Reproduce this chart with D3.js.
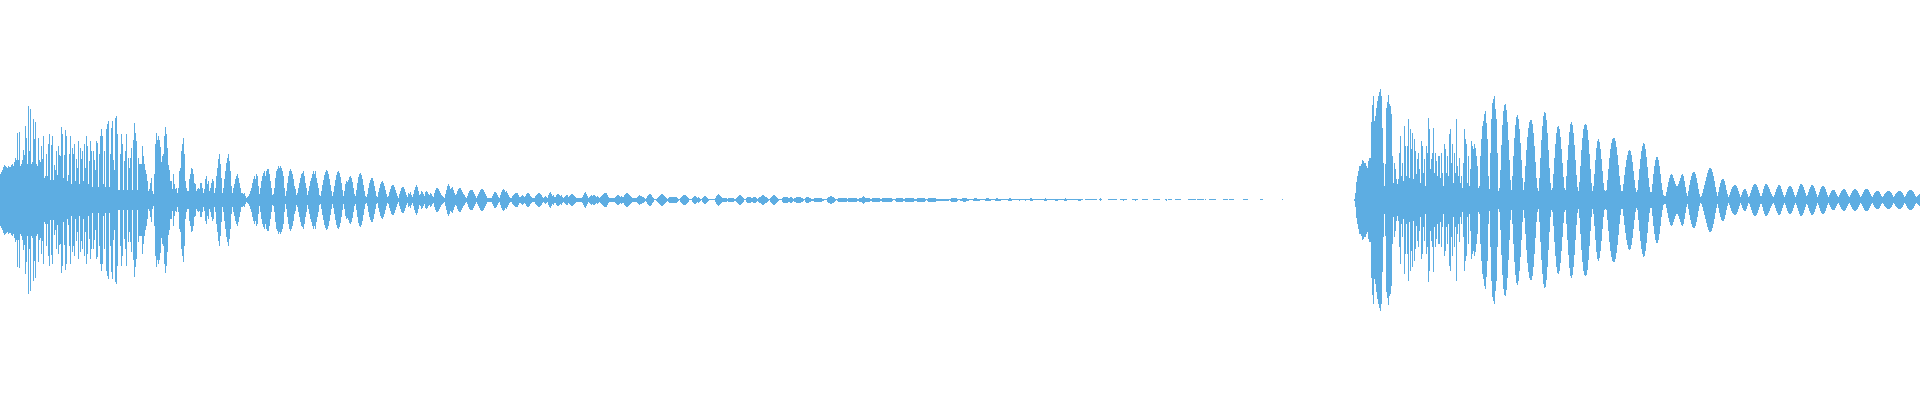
<!DOCTYPE html>
<html>
<head>
<meta charset="utf-8">
<title>Waveform</title>
<script src="https://cdn.jsdelivr.net/npm/d3@7"></script>
<style>
  html, body { margin: 0; padding: 0; background: #ffffff; overflow: hidden; }
  svg { display: block; }
</style>
</head>
<body>
<div id="chart"></div>
<script>
// Peak amplitude per sample column (symmetric around zero).
// Amplitude units: full scale = 200.
const totalSamples = 1920;

// First hit, samples 0..159
const hitOneA = [
  26,28,30,33,35,34,33,32,34,33,
  33,35,36,34,38,42,40,67,40,68,
  34,36,40,50,45,74,62,36,94,49,
  91,36,38,81,61,78,36,34,62,40,
  38,54,41,64,22,24,46,24,56,66,
  20,55,64,20,35,30,49,25,54,45,
  44,73,66,22,45,70,64,19,25,46,
  64,16,52,46,56,19,41,32,59,16,
  52,41,49,19,56,32,64,54,16,39,
  59,49,13,49,40,30,59,57,13,46,
  64,71,64,16,49,13,71,76,79,13,
  46,72,79,40,30,82,84,66,10,10,
  46,66,56,10,39,49,66,10,42,32,
  42,52,10,60,77,67,59,10,42,36,
  36,36,54,44,36,30,26,19,9,11,
  17,22,9,6,26,56,67,60,64,60
];

// First hit, samples 160..319
const hitOneB = [
  53,38,44,46,64,73,66,52,35,30,
  19,19,11,26,16,11,12,7,12,29,
  32,49,56,62,46,19,12,9,9,21,
  26,32,31,26,17,16,9,11,12,11,
  17,17,12,7,11,21,24,16,19,9,
  12,17,21,19,7,12,24,32,41,46,
  36,22,7,12,21,29,37,42,46,39,
  29,14,7,12,16,21,24,26,22,17,
  12,7,7,6,7,4,2,3,4,6,
  9,12,17,21,24,21,26,24,14,6,
  12,19,24,27,29,24,29,31,31,26,
  19,12,5,6,12,22,29,31,34,32,
  34,32,29,24,12,4,9,17,24,29,
  31,29,26,21,14,11,5,7,12,17,
  22,26,27,29,24,17,12,5,9,14,
  19,22,26,29,26,29,22,17,12,5
];

// First hit decay, samples 320..639
const hitOneC = [
  4,9,15,20,25,28,30,29,26,21,
  15,9,4,8,14,20,25,28,29,27,
  23,17,10,4,9,16,19,18,20,23,
  24,22,18,12,6,4,10,17,23,26,
  27,25,21,15,9,4,3,6,12,17,
  20,22,22,19,14,9,4,3,8,12,
  16,18,19,17,14,10,6,3,4,8,
  11,14,15,15,13,10,7,4,2,6,
  9,12,13,13,11,8,5,3,7,6,
  8,5,3,6,10,13,15,13,9,5,
  6,9,8,6,4,8,9,8,6,5,
  7,6,4,3,7,10,12,12,11,9,
  7,5,4,3,2,6,10,14,16,14,
  11,12,13,10,7,5,6,9,11,12,
  12,10,8,6,5,3,2,4,7,9,
  10,10,10,8,6,4,2,4,6,8,
  10,11,11,10,8,6,4,2,2,2,
  2,2,4,6,8,8,7,5,3,2,
  5,8,10,11,10,8,9,7,5,3,
  2,2,4,5,6,7,7,7,5,3,
  3,4,5,4,3,4,6,7,7,6,
  4,3,2,2,2,4,5,6,7,7,
  6,5,3,2,3,4,3,2,5,7,
  8,6,4,5,3,3,5,6,6,5,
  4,5,3,2,3,4,5,5,3,4,
  5,6,6,5,4,3,2,2,2,2,
  2,2,3,5,7,8,6,4,2,3,
  4,5,4,5,5,4,3,4,3,2,
  3,4,5,6,7,7,7,5,3,2,
  2,2,2,2,2,3,4,5,5,4,
  3,4,3,3,5,6,7,7,6,5,
  4,3,2,2,2,2,2,3,4,5
];

// First hit tail, samples 640..959
const hitOneD = [
  4,4,3,3,2,1,2,4,5,6,
  6,5,3,2,0.5,0.5,1,2,3,4,
  5,6,6,5,4,3,2,1,2,3,
  3,3,3,3,3,3,3,2,1,0.5,
  2,3,4,5,5,5,4,3,2,0.5,
  0.5,0.5,2,3,4,4,3,2,3,2,
  1,0.5,2,3,4,4,3,2,1,0.5,
  0.5,0.5,0.5,0.5,0.5,2,4,5,6,5,
  4,3,2,2,2,2,2,1,2,2,
  2,2,2,2,1,1,2,3,4,5,
  5,4,3,2,0.5,0.5,2,3,3,3,
  3,2,2,3,3,3,2,1,2,3,
  3,4,5,5,4,3,3,2,1,0.5,
  2,3,4,5,5,4,3,2,1,0.5,
  0.5,0.5,2,3,3,3,3,3,2,2,
  3,3,2,1,2,2,3,3,3,3,
  3,2,2,1,0.5,2,3,3,3,2,
  2,1,1,1,2,2,2,2,2,2,
  2,2,1,1,0.5,0.5,0.5,2,3,3,
  4,4,3,3,2,1,0.5,1,2,2,
  2,2,2,2,2,2,2,1,2,2,
  2,2,2,2,2,2,2,1,1,2,
  2,2,3,4,3,2,2,2,2,2,
  1,1,2,2,2,2,2,2,2,2,
  1,1,2,2,2,2,2,2,2,2,
  2,2,1,0.5,0.5,1,2,2,2,2,
  2,2,2,1,1,2,2,2,2,2,
  2,2,2,2,1,1,1,2,2,2,
  2,2,2,2,2,1,0.5,1,2,2,
  2,2,2,2,2,2,1,1,1,1,
  1,1,1,1,1,1,1,1,1,0.5,
  1,2,2,2,2,2,2,1,0.5,0.5
];

// First hit, last fading fragments, samples 960..1282
const hitOneE = [
  1,1,1.5,2,2,2,1.5,1,1,0.5,
  0.5,0.5,0.5,1,1.5,1.5,1.5,1,1,1,
  0.5,0.5,0.5,0.5,0.5,1,1.5,1.5,1.5,1,
  1,0.5,0.5,0.5,0.5,1,1.5,1.5,1,1,
  1,0.5,0.5,0.5,0.5,0.5,0.5,0.5,1,1.5,
  1.5,1,0.5,0.5,0.5,0.5,0.5,0.5,0.5,1,
  0.5,0.5,0.5,0.5,0.5,1,0.5,0.5,0.5,0.5,
  1.5,1.5,1,0.5,0.5,0.5,0.5,0.5,0.5,0.5,
  0.5,0.5,0.5,0.5,1,1.5,1,0.5,0.5,0.5,
  0.5,0.5,0.5,0.5,0.5,1,1,1,0.5,0.5,
  0.5,0.5,0.5,0.5,1,1.5,1,0.5,0.5,0.5,
  0.5,0.5,0.5,0.5,0.5,0.5,0.5,0.5,1,1,
  1,0.5,0.5,0,0,0.5,0.5,0.5,0.5,0.5,
  0.5,0.5,0.5,0.5,0.5,0.5,0.5,0,0,0.5,
  1.5,0.5,0,0,0,0,0,0,0.5,0.5,
  0.5,0.5,0.5,0.5,0.5,0.5,0.5,0,0,0,
  0.5,0.5,0.5,1,0.5,0.5,0.5,0,0,0,
  0,0,0.5,0.5,0.5,1,0.5,0.5,0,0,
  0,0,0.5,0.5,0.5,0.5,0.5,0.5,0,0,
  0,0,0,0.5,0.5,0.5,0.5,0.5,0.5,0.5,
  0,0,0,0,0,0.5,1,0,0.5,0.5,
  0.5,0.5,0,0,0,0.5,0.5,0.5,0.5,0.5,
  0.5,0,0,0,0,0,0,0,0.5,0.5,
  0.5,0.5,0.5,0.5,0.5,0.5,0,0.5,0.5,0.5,
  0.5,0.5,0.5,0.5,0,0.5,0,0,0,0.5,
  0.5,0.5,0.5,0.5,0.5,0.5,0,0,0,0,
  0,0,0,0.5,0.5,0.5,0.5,0.5,0,0.5,
  0.5,0.5,0.5,0.5,0,0,0,0,0,0,
  0,0,0,0.5,0.5,0.5,0.5,0.5,0,0,
  0,0,0,0,0,0,0,0,0,0,
  0.5,0.5,0.5,0,0,0,0,0,0,0,
  0,0,0,0,0,0,0,0,0,0,
  0,0,0.5
];

// Second hit attack, samples 1354..1499
const hitTwoA = [
  1,7,18,24,29,34,34,36,40,39,
  37,37,34,32,39,42,42,78,95,104,
  79,84,92,99,104,108,111,104,72,37,
  14,36,92,98,105,96,94,86,44,17,
  37,31,21,16,21,47,64,24,37,19,
  74,54,24,54,81,22,71,51,67,21,
  61,49,26,41,47,31,17,59,54,27,
  41,14,54,47,82,71,31,41,47,72,
  27,47,39,24,44,44,22,47,27,14,
  56,51,27,44,24,66,71,37,56,17,
  47,27,81,34,24,42,17,24,12,37,
  71,61,56,17,44,14,31,59,54,51,
  56,52,44,34,12,14,44,61,74,79,
  86,89,77,61,24,11,47,81,97,101,
  104,91,81,47,9,12
];

// Second hit body, samples 1500..1664
const hitTwoB = [
  30,55,75,89,95,96,90,78,60,40,
  20,10,24,44,62,75,83,85,81,71,
  57,40,22,10,18,34,50,63,72,78,
  80,80,76,67,54,38,22,12,9,22,
  42,60,74,84,88,87,80,67,50,32,
  17,10,12,26,42,56,67,73,74,71,
  63,51,37,23,12,10,24,40,55,68,
  76,78,75,67,55,40,25,13,9,18,
  34,50,62,71,75,76,75,70,60,46,
  31,17,9,14,26,40,52,59,61,58,
  51,41,29,17,10,9,10,20,31,42,
  51,57,61,62,62,59,53,45,35,24,
  15,9,9,16,25,33,40,45,49,50,
  49,45,38,29,20,12,8,10,20,31,
  41,49,54,57,56,51,43,33,22,13,
  8,8,16,26,34,40,43,43,40,34,
  26,17,10,5,4
];

// Second hit decay, samples 1665..1919
const hitTwoC = [
  4,8,13,18,22,25,26,25,22,19,
  16,14,14,16,19,22,25,26,24,19,
  13,7,4,9,15,20,24,27,28,28,
  26,22,17,11,6,3,4,7,11,15,
  19,23,27,30,32,32,31,28,24,19,
  13,8,4,8,13,17,20,21,21,19,
  15,10,6,3,5,8,11,13,14,15,
  15,14,12,9,6,3,5,8,10,11,
  11,9,6,3,4,7,10,13,15,16,
  16,15,13,10,7,4,4,7,11,14,
  16,16,15,13,11,8,6,4,3,5,
  8,11,13,15,15,14,11,8,5,3,
  5,8,11,13,14,14,13,11,8,5,
  3,5,8,11,14,16,16,15,13,10,
  7,4,5,8,11,13,15,15,14,12,
  9,6,3,5,8,11,13,14,14,13,
  11,8,5,3,5,7,9,10,10,10,
  8,6,4,3,5,7,9,10,11,11,
  10,8,6,4,3,5,7,9,10,11,
  11,10,9,7,5,3,4,6,8,10,
  11,11,11,10,8,6,4,3,5,7,
  8,9,9,9,8,6,4,3,4,6,
  7,8,9,9,9,8,7,5,3,4,
  6,7,8,9,9,9,8,7,5,3,
  4,6,8,9,10,10,10,9,8,6,
  4,3,4,5,6
];

// Sample index at which each block begins
const blockStarts = [0, 160, 320, 640, 960, 1354, 1500, 1665];
const blocks = [hitOneA, hitOneB, hitOneC, hitOneD, hitOneE, hitTwoA, hitTwoB, hitTwoC];

const width = 1920, height = 400;
const waveColor = "#5dade2";

const samples = [];
blocks.forEach((arr, k) => {
  arr.forEach((v, j) => samples.push({ i: blockStarts[k] + j, v }));
});

const x = d3.scaleLinear().domain([0, totalSamples]).range([0, width]);
const y = d3.scaleLinear().domain([-200, 200]).range([height - 0.5, -0.5]);

const svg = d3.select("#chart").append("svg")
  .attr("width", width)
  .attr("height", height)
  .attr("viewBox", `0 0 ${width} ${height}`);

svg.append("rect").attr("width", width).attr("height", height).attr("fill", "#ffffff");

svg.append("g")
  .attr("fill", waveColor)
  .attr("shape-rendering", "crispEdges")
  .selectAll("rect")
  .data(samples.filter(d => d.v > 0))
  .join("rect")
  .attr("x", d => x(d.i))
  .attr("width", d => x(d.i + 1) - x(d.i))
  .attr("y", d => y(d.v))
  .attr("height", d => y(-d.v) - y(d.v));
</script>
</body>
</html>
